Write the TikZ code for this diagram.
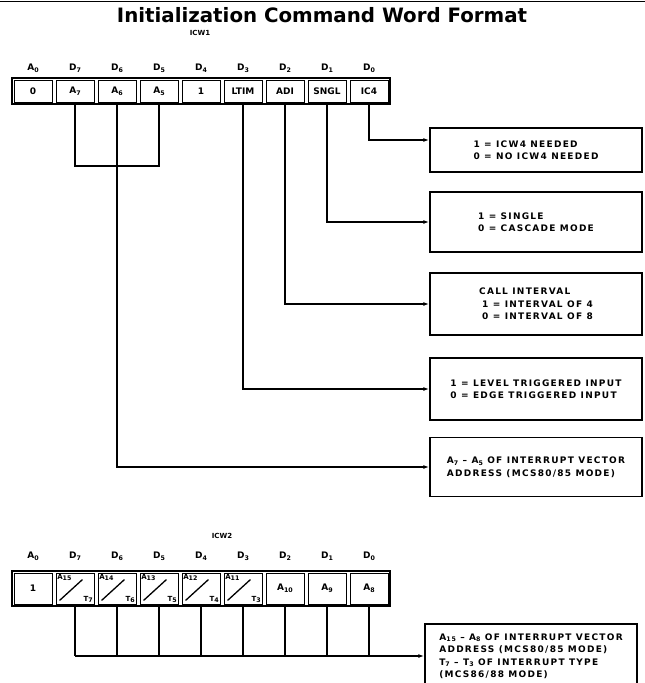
\documentclass[tikz,border=0pt]{standalone}
\usepackage{fontspec}
\setmainfont{DejaVu Sans}
\newfontfamily\descfont[LetterSpace=14]{DejaVu Sans}
\newcommand\lsub[1]{\raisebox{-.4ex}{\fontsize{6.3}{7}\selectfont#1}}
\usepackage{tikz}
\usetikzlibrary{arrows.meta}

\begin{document}
\begin{tikzpicture}[x=1pt,y=-1pt,
  bitcell/.style={draw,line width=0.9pt,minimum width=38pt,minimum height=22pt,inner sep=0pt,font=\bfseries\fontsize{9}{10}\selectfont},
  bitlabel/.style={font=\bfseries\fontsize{9}{10}\selectfont},
  tinylabel/.style={inner sep=1.5pt,font=\bfseries\fontsize{7}{8}\selectfont},
  descbox/.style={draw,line width=1.5pt,minimum width=212pt,align=left,inner sep=0pt,font=\descfont\bfseries\fontsize{9}{12.5}\selectfont},
  wire/.style={line width=1.3pt},
  link/.style={wire,-{Latex[length=6pt,width=4pt]}}]
\useasboundingbox (0,0) rectangle (645,683);
\clip (0,0) rectangle (645,683);
\draw[line width=1.6pt] (0,1.5) -- (645,1.5);
\node[font=\bfseries\fontsize{19.8}{21}\selectfont] (title) at (322,15) {Initialization Command Word Format};

% ICW1
\node[font=\bfseries\fontsize{7}{8}\selectfont] (icw1) at (200,33) {ICW1};
\node[bitlabel] (p0) at (33,68) {A\lsub{0}};
\foreach \i in {1,...,8}
{
  \pgfmathtruncatemacro\d{8-\i}
  \node[bitlabel] (p\i) at (33+42*\i,68) {D\lsub{\d}};
}
\foreach \lbl [count=\i from 0] in {0,A\lsub{7},A\lsub{6},A\lsub{5},1,LTIM,ADI,SNGL,IC4}
  \node[bitcell] (c\i) at (33+42*\i,91) {\lbl};
\draw[line width=2.4pt] (12,78) rectangle (390,104);

\node[descbox,minimum height=44pt] (b1) at (536,150) {1 = ICW4 NEEDED\\0 = NO ICW4 NEEDED};
\node[descbox,minimum height=60pt] (b2) at (536,222) {1 = SINGLE\\0 = CASCADE MODE};
\node[descbox,minimum height=62pt] (b3) at (536,304) {CALL INTERVAL\\\hspace{3pt}1 = INTERVAL OF 4\\\hspace{3pt}0 = INTERVAL OF 8};
\node[descbox,minimum height=62pt] (b4) at (536,389) {1 = LEVEL TRIGGERED INPUT\\0 = EDGE TRIGGERED INPUT};
\node[descbox,minimum height=59pt] (b5) at (536,467) {A\lsub{7} – A\lsub{5} OF INTERRUPT VECTOR\\ADDRESS (MCS80/85 MODE)};

\draw[link] (c8.south) |- ([yshift=10pt]b1.west);
\draw[link] (c7.south) |- (b2.west);
\draw[link] (c6.south) |- (b3.west);
\draw[link] (c5.south) |- (b4.west);
\coordinate (brk) at (117,166);
\draw[wire] (c1.south) |- (brk) -| (c3.south);
\draw[link] (c2.south) |- (b5.west);

% ICW2
\node[font=\bfseries\fontsize{7}{8}\selectfont] (icw2) at (222,536) {ICW2};
\node[bitlabel] (q0) at (33,556) {A\lsub{0}};
\foreach \i in {1,...,8}
{
  \pgfmathtruncatemacro\d{8-\i}
  \node[bitlabel] (q\i) at (33+42*\i,556) {D\lsub{\d}};
}
\node[bitcell,minimum height=31pt] (w0) at (33,588.5) {1};
\foreach \i in {1,...,5}
{
  \pgfmathtruncatemacro\hi{16-\i}
  \pgfmathtruncatemacro\lo{8-\i}
  \node[bitcell,minimum height=31pt] (w\i) at (33+42*\i,588.5) {};
  \draw[line width=1.3pt] ([shift={(4pt,4pt)}]w\i.south west) -- ([shift={(-12pt,-7pt)}]w\i.north east);
  \node[tinylabel,anchor=north west] (wa\i) at (w\i.north west) {A\lsub{\hi}};
  \node[tinylabel,anchor=south east] (wt\i) at (w\i.south east) {T\lsub{\lo}};
}
\foreach \lbl [count=\i from 6] in {A\lsub{10},A\lsub{9},A\lsub{8}}
  \node[bitcell,minimum height=31pt] (w\i) at (33+42*\i,588.5) {\lbl};
\draw[line width=2.4pt] (12,571) rectangle (390,606);

\node[descbox,minimum height=64pt] (b6) at (531,656) {A\lsub{15} – A\lsub{8} OF INTERRUPT VECTOR\\ADDRESS (MCS80/85 MODE)\\T\lsub{7} – T\lsub{3} OF INTERRUPT TYPE\\(MCS86/88 MODE)};
\foreach \i in {1,...,8}
  \draw[wire] (w\i.south) -- (w\i.south |- b6.west);
\draw[link] (w1.south |- b6.west) -- (b6.west);
\end{tikzpicture}
\end{document}
